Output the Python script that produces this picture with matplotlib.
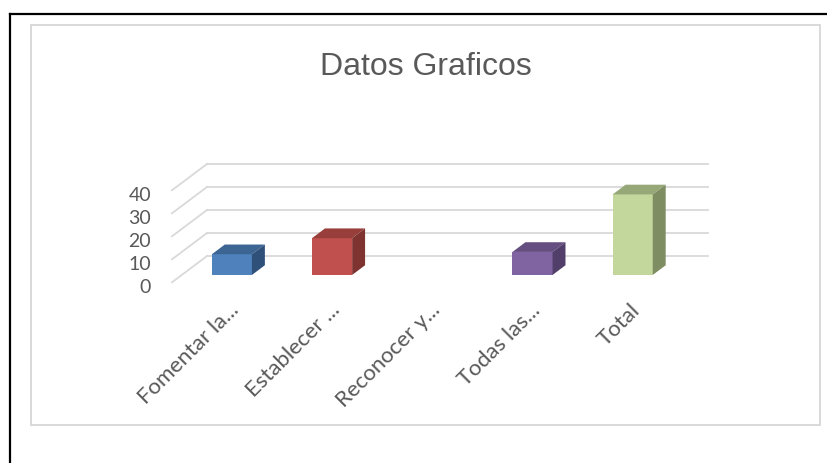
import numpy as np
import matplotlib.pyplot as plt
from matplotlib.patches import Polygon, Rectangle
from matplotlib.lines import Line2D
from matplotlib.transforms import ScaledTranslation

categories = ["Fomentar la...", "Establecer ...", "Reconocer y...", "Todas las...", "Total"]
values = [9, 16, 0, 10, 35]
yticks = [0, 10, 20, 30, 40]

front_colors = ["#4F81BD", "#C0504D", "#9BBB59", "#8064A2", "#C3D69B"]
top_colors = ["#3C6593", "#983F3C", "#7A9446", "#654F80", "#97A878"]
side_colors = ["#2F5079", "#7E3330", "#64793A", "#523F69", "#7F8D62"]

# oblique 3d look: depth shift of the floor in data units
DX, DY = 0.349, 11.4
bar_front, bar_back = 0.28, 0.65
bar_w = 0.4
grid_c = "#D9D9D9"
text_c = "#595959"

W, H = 828, 464
fig = plt.figure(figsize=(W / 100, H / 100), dpi=100)

# frames
fig.add_artist(Line2D([10 / W, 10 / W], [0, 1 - 15 / H], color="black", lw=1.6))
fig.add_artist(Line2D([10 / W, 1], [1 - 15 / H, 1 - 15 / H], color="black", lw=1.6))
fig.add_artist(Rectangle((31 / W, 1 - 426 / H), (820 - 31) / W, (426 - 26) / H,
                         transform=fig.transFigure, fill=False, ec=grid_c, lw=1.4))

fig.text(426 / W, 1 - 67 / H, "Datos Graficos", ha="center", va="center",
         fontsize=23, color=text_c, family="Liberation Sans")

ax = fig.add_axes([172 / W, 1 - 283.3 / H, (708 - 172) / W, (283.3 - 165) / H])
n = len(categories)
ax.set_xlim(0, n + DX)
ax.set_ylim(0, yticks[-1] + DY)
for s in ax.spines.values():
    s.set_visible(False)

# back wall and side wall gridlines
for v in yticks:
    ax.plot([DX, n + DX], [v + DY, v + DY], color=grid_c, lw=1.3, zorder=1, clip_on=False)
    ax.plot([0, DX], [v, v + DY], color=grid_c, lw=1.3, zorder=1, clip_on=False)

# bars
for i, v in enumerate(values):
    if v == 0:
        continue
    x0 = i + 0.5 - bar_w / 2 + bar_front * DX
    x1 = x0 + bar_w
    y0 = bar_front * DY
    ddx = (bar_back - bar_front) * DX
    ddy = (bar_back - bar_front) * DY
    ax.bar(x0, v, bottom=y0, width=bar_w, align="edge", color=front_colors[i],
           zorder=3, clip_on=False)
    ax.add_patch(Polygon([(x0, y0 + v), (x1, y0 + v), (x1 + ddx, y0 + v + ddy),
                          (x0 + ddx, y0 + v + ddy)], closed=True,
                         fc=top_colors[i], ec="none", zorder=3, clip_on=False))
    ax.add_patch(Polygon([(x1, y0), (x1 + ddx, y0 + ddy), (x1 + ddx, y0 + v + ddy),
                          (x1, y0 + v)], closed=True,
                         fc=side_colors[i], ec="none", zorder=3, clip_on=False))

ax.set_yticks(yticks)
ax.set_yticklabels([str(t) for t in yticks])
ax.set_xticks(np.arange(n) + 0.5)
ax.set_xticklabels(categories, rotation=45, ha="right", rotation_mode="anchor")
ax.tick_params(axis="y", length=0, pad=15, labelsize=14, labelcolor=text_c)
ax.tick_params(axis="x", length=0, pad=12, labelsize=16, labelcolor=text_c)
for lab in ax.get_yticklabels() + ax.get_xticklabels():
    lab.set_family("Lato")
off = ScaledTranslation(0, -3 / 100, fig.dpi_scale_trans)
for lab in ax.get_yticklabels():
    lab.set_transform(lab.get_transform() + off)
off2 = ScaledTranslation(7 / 100, 0, fig.dpi_scale_trans)
for lab in ax.get_xticklabels():
    lab.set_transform(lab.get_transform() + off2)

fig.savefig("out.png", dpi=100)
